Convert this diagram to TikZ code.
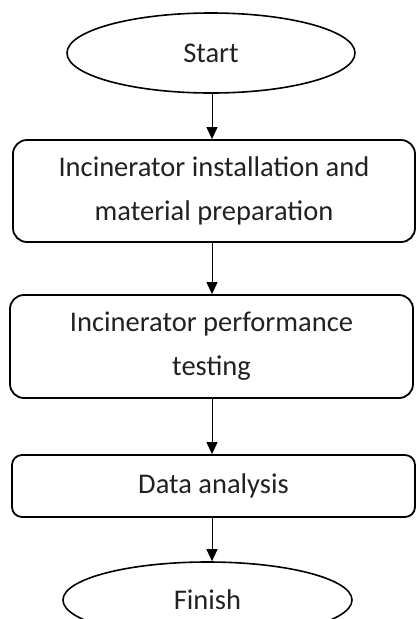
\documentclass[tikz,border=0pt]{standalone}
\usepackage{fontspec}
\setmainfont{Carlito}
\usetikzlibrary{shapes.geometric,arrows.meta}
\begin{document}
\begin{tikzpicture}[x=1pt,y=1pt,
  every node/.style={text=black!87, font=\fontsize{28.5}{44}\selectfont, align=center, inner sep=0pt},
  term/.style={ellipse, draw, line width=1.6pt},
  proc/.style={draw, rounded corners=14pt, line width=1.8pt},
  arr/.style={line width=1pt, -{Triangle[length=12pt,width=11pt]}}]
\useasboundingbox (0,0) rectangle (416,-619);
\node[term, minimum width=288, minimum height=80] (start) at (211,-53) {Start};
\node[proc, minimum width=402, minimum height=102] (b1) at (214,-191) {Incinerator installation and\\material preparation};
\node[proc, minimum width=403, minimum height=103] (b2) at (211.5,-346.5) {Incinerator performance\\testing};
\node[proc, rounded corners=10pt, minimum width=403, minimum height=62] (b3) at (213.5,-486) {Data analysis};
\node[term, minimum width=289, minimum height=76] (fin) at (207.5,-600) {Finish};
\coordinate (ax) at (212,0);
\draw[arr] (start.south -| ax) -- (b1.north -| ax);
\draw[arr] (b1.south -| ax) -- (b2.north -| ax);
\draw[arr] (b2.south -| ax) -- (b3.north -| ax);
\draw[arr] (b3.south -| ax) -- (fin.north -| ax);
\end{tikzpicture}
\end{document}
